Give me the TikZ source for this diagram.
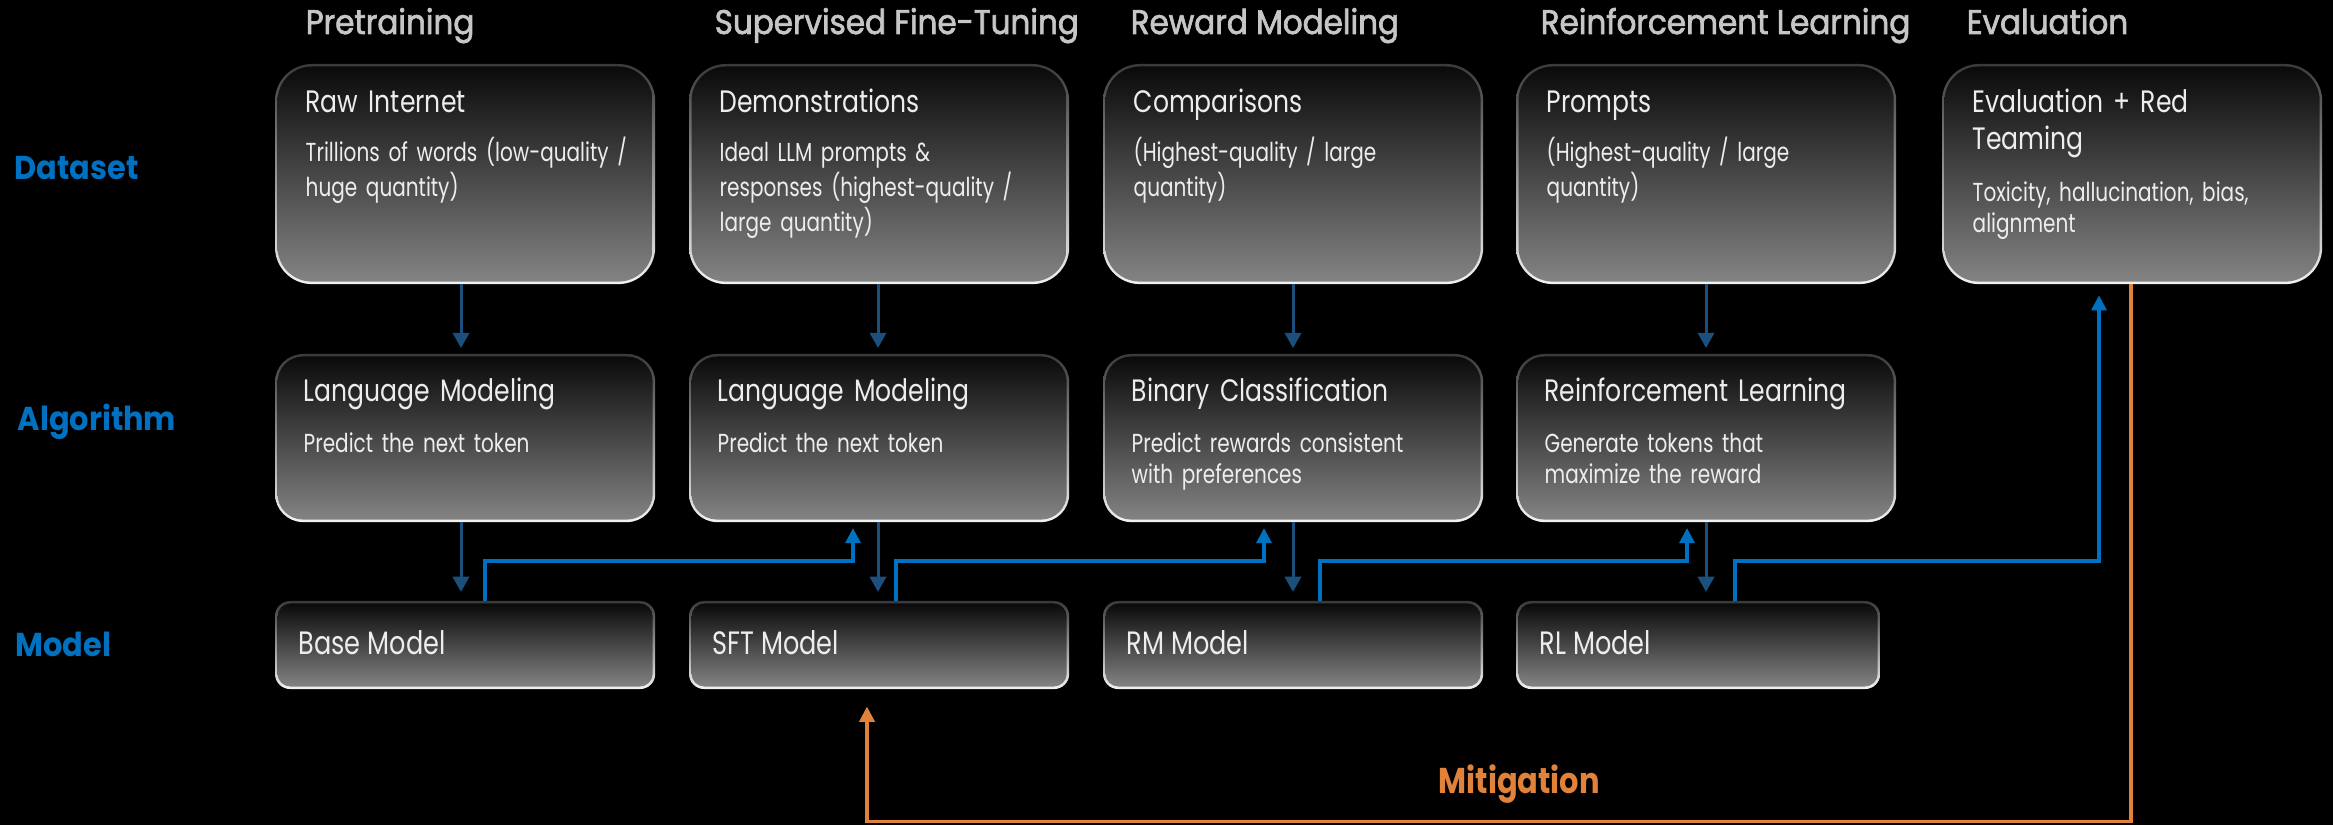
\documentclass[tikz,border=0pt]{standalone}
\usepackage{fontspec}
\setmainfont{Poppins}[FakeStretch=0.77]
\newfontfamily\ttlfont{Poppins}[FakeStretch=0.81]
\newfontfamily\mdlfont{Poppins}[FakeStretch=0.79]
\newfontfamily\hdfont{Poppins}[FakeStretch=0.91,FakeBold=2]
\newfontfamily\lbfont{Poppins}[FakeStretch=0.92]
\newfontfamily\mtfont{Poppins}[FakeStretch=0.85]
\usetikzlibrary{arrows.meta,calc}

\definecolor{boxtext}{HTML}{EDEDED}
\definecolor{hdrgray}{HTML}{C6C6C6}
\definecolor{lblue}{HTML}{0070C0}
\definecolor{arrdark}{HTML}{1B4F7E}
\definecolor{fbblue}{HTML}{0070C0}
\definecolor{mitorange}{HTML}{E0823A}
\definecolor{bordtop}{HTML}{3A3A3A}
\definecolor{bordbot}{HTML}{F2F2F2}
\definecolor{filltop}{HTML}{0A0A0A}
\definecolor{fillbot}{HTML}{838383}

\tikzset{
  boxbase/.style={anchor=north west, inner sep=0pt, outer sep=0pt},
  dsbox/.style={boxbase, minimum width=3.8cm, minimum height=2.2cm},
  algbox/.style={boxbase, minimum width=3.8cm, minimum height=1.68cm},
  mdlbox/.style={boxbase, minimum width=3.8cm, minimum height=0.88cm},
  ttl/.style={anchor=base west, inner sep=0pt, text=boxtext, align=left, text width=3.4cm,
    font=\ttlfont\fontsize{8.8pt}{10.5pt}\selectfont},
  txt/.style={anchor=base west, inner sep=0pt, text=boxtext, align=left, text width=3.4cm,
    font=\fontsize{7.4pt}{8.8pt}\selectfont},
  mdltxt/.style={anchor=base west, inner sep=0pt, text=boxtext,
    font=\mdlfont\fontsize{9.2pt}{10pt}\selectfont},
  hdr/.style={anchor=base west, inner sep=0pt, text=hdrgray,
    font=\hdfont\fontsize{9.7pt}{11pt}\selectfont},
  rowlab/.style={anchor=base west, inner sep=0pt, text=lblue,
    font=\lbfont\bfseries\fontsize{9.4pt}{11pt}\selectfont},
  dnarrow/.style={draw=arrdark, line width=0.85pt, -{Triangle[length=4.3pt,width=4.6pt]}},
  fbarrow/.style={draw=fbblue, line width=0.9pt, -{Triangle[length=4.3pt,width=4.3pt]}},
  mitarrow/.style={draw=mitorange, line width=0.9pt, -{Triangle[length=4.3pt,width=4.3pt]}},
}

\begin{document}
\begin{tikzpicture}[x=0.01cm, y=-0.01cm]
  % canvas
  \useasboundingbox (0,0) rectangle (2333,825);
  \fill[black] (0,0) rectangle (2333,825);

  % stage headers
  \node[hdr] (h1) at (305,34) {Pretraining};
  \node[hdr] (h2) at (714,34) {Supervised Fine-Tuning};
  \node[hdr] (h3) at (1130,34) {Reward Modeling};
  \node[hdr] (h4) at (1540,34) {Reinforcement Learning};
  \node[hdr] (h5) at (1966,34) {Evaluation};

  % row labels
  \node[rowlab] (rl1) at (14,180) {Dataset};
  \node[rowlab] (rl2) at (17,431) {Algorithm};
  \node[rowlab] (rl3) at (15,657) {Model};

  % box frames
  \node[dsbox] (d1) at (275,64) {};
  \node[dsbox] (d2) at (689,64) {};
  \node[dsbox] (d3) at (1103,64) {};
  \node[dsbox] (d4) at (1516,64) {};
  \node[dsbox] (e5) at (1942,64) {};
  \node[algbox] (a1) at (275,354) {};
  \node[algbox] (a2) at (689,354) {};
  \node[algbox] (a3) at (1103,354) {};
  \node[algbox] (a4) at (1516,354) {};
  \node[mdlbox] (m1) at (275,601) {};
  \node[mdlbox] (m2) at (689,601) {};
  \node[mdlbox] (m3) at (1103,601) {};
  \node[mdlbox, minimum width=3.64cm] (m4) at (1516,601) {};

  % gradient rim and gradient fill of every box
  \foreach \n/\r/\s in {d1/10.5pt/9.8pt, d2/10.5pt/9.8pt, d3/10.5pt/9.8pt, d4/10.5pt/9.8pt, e5/10.5pt/9.8pt,
                        a1/8pt/7.3pt, a2/8pt/7.3pt, a3/8pt/7.3pt, a4/8pt/7.3pt,
                        m1/4.3pt/3.7pt, m2/4.3pt/3.7pt, m3/4.3pt/3.7pt, m4/4.3pt/3.7pt}{
    \shade[rounded corners=\r, top color=bordtop, bottom color=bordbot]
      (\n.north west) rectangle (\n.south east);
    \shade[rounded corners=\s, top color=filltop, bottom color=fillbot]
      ($(\n.north west)+(2.5,2.5)$) rectangle ($(\n.south east)+(-2.5,-2.5)$);
  }

  % dataset texts
  \node[ttl] (t-d1) at ($(d1.north west)+(30,49)$) {Raw Internet};
  \node[txt] (b-d1) at ($(d1.north west)+(30,98)$) {Trillions of words (low-quality /\\huge quantity)};
  \node[ttl] (t-d2) at ($(d2.north west)+(30,49)$) {Demonstrations};
  \node[txt] (b-d2) at ($(d2.north west)+(30,98)$) {Ideal LLM prompts \&\\responses (highest-quality /\\large quantity)};
  \node[ttl] (t-d3) at ($(d3.north west)+(30,49)$) {Comparisons};
  \node[txt] (b-d3) at ($(d3.north west)+(30,98)$) {(Highest-quality / large\\quantity)};
  \node[ttl] (t-d4) at ($(d4.north west)+(30,49)$) {Prompts};
  \node[txt] (b-d4) at ($(d4.north west)+(30,98)$) {(Highest-quality / large\\quantity)};
  \node[ttl] (t-e5) at ($(e5.north west)+(30,49)$) {Evaluation + Red\\Teaming};
  \node[txt] (b-e5) at ($(e5.north west)+(30,138)$) {Toxicity, hallucination, bias,\\alignment};

  % algorithm texts
  \node[ttl] (t-a1) at ($(a1.north west)+(28,48)$) {Language Modeling};
  \node[txt] (b-a1) at ($(a1.north west)+(28,99)$) {Predict the next token};
  \node[ttl] (t-a2) at ($(a2.north west)+(28,48)$) {Language Modeling};
  \node[txt] (b-a2) at ($(a2.north west)+(28,99)$) {Predict the next token};
  \node[ttl] (t-a3) at ($(a3.north west)+(28,48)$) {Binary Classification};
  \node[txt] (b-a3) at ($(a3.north west)+(28,99)$) {Predict rewards consistent\\with preferences};
  \node[ttl] (t-a4) at ($(a4.north west)+(28,48)$) {Reinforcement Learning};
  \node[txt] (b-a4) at ($(a4.north west)+(28,99)$) {Generate tokens that\\maximize the reward};

  % model texts
  \node[mdltxt] (t-m1) at ($(m1.north west)+(23,54)$) {Base Model};
  \node[mdltxt] (t-m2) at ($(m2.north west)+(23,54)$) {SFT Model};
  \node[mdltxt] (t-m3) at ($(m3.north west)+(23,54)$) {RM Model};
  \node[mdltxt] (t-m4) at ($(m4.north west)+(23,54)$) {RL Model};

  % dataset -> algorithm
  \draw[dnarrow, shorten >=1.7pt] ($(d1.south west)+(186,0)$) -- ($(a1.north west)+(186,0)$);
  \draw[dnarrow, shorten >=1.7pt] ($(d2.south west)+(189,0)$) -- ($(a2.north west)+(189,0)$);
  \draw[dnarrow, shorten >=1.7pt] ($(d3.south west)+(190,0)$) -- ($(a3.north west)+(190,0)$);
  \draw[dnarrow, shorten >=1.7pt] ($(d4.south west)+(190,0)$) -- ($(a4.north west)+(190,0)$);

  % algorithm -> model
  \draw[dnarrow, shorten >=2.6pt] ($(a1.south west)+(186,0)$) -- ($(m1.north west)+(186,0)$);
  \draw[dnarrow, shorten >=2.6pt] ($(a2.south west)+(189,0)$) -- ($(m2.north west)+(189,0)$);
  \draw[dnarrow, shorten >=2.6pt] ($(a3.south west)+(190,0)$) -- ($(m3.north west)+(190,0)$);
  \draw[dnarrow, shorten >=2.6pt] ($(a4.south west)+(190,0)$) -- ($(m4.north west)+(190,0)$);

  % each model feeds the next stage
  \draw[fbarrow, shorten >=1.7pt] ($(m1.north west)+(210,0)$) -- ++(0,-40) -| ($(a2.south west)+(164,0)$);
  \draw[fbarrow, shorten >=1.7pt] ($(m2.north west)+(207,0)$) -- ++(0,-40) -| ($(a3.south west)+(161,0)$);
  \draw[fbarrow, shorten >=1.7pt] ($(m3.north west)+(217,0)$) -- ++(0,-40) -| ($(a4.south west)+(171,0)$);
  \draw[fbarrow, shorten >=3.2pt] ($(m4.north west)+(219,0)$) -- ++(0,-40) -| ($(e5.south west)+(157,0)$);

  % mitigation loop
  \draw[mitarrow, shorten >=5pt] ($(e5.south west)+(189,0)$) -- ++(0,537) -| ($(m2.south west)+(178,0)$);
  \node[anchor=base west, inner sep=0pt, text=mitorange,
        font=\mtfont\bfseries\fontsize{10.2pt}{12pt}\selectfont] (mitig) at (1438,794) {Mitigation};
\end{tikzpicture}
\end{document}
